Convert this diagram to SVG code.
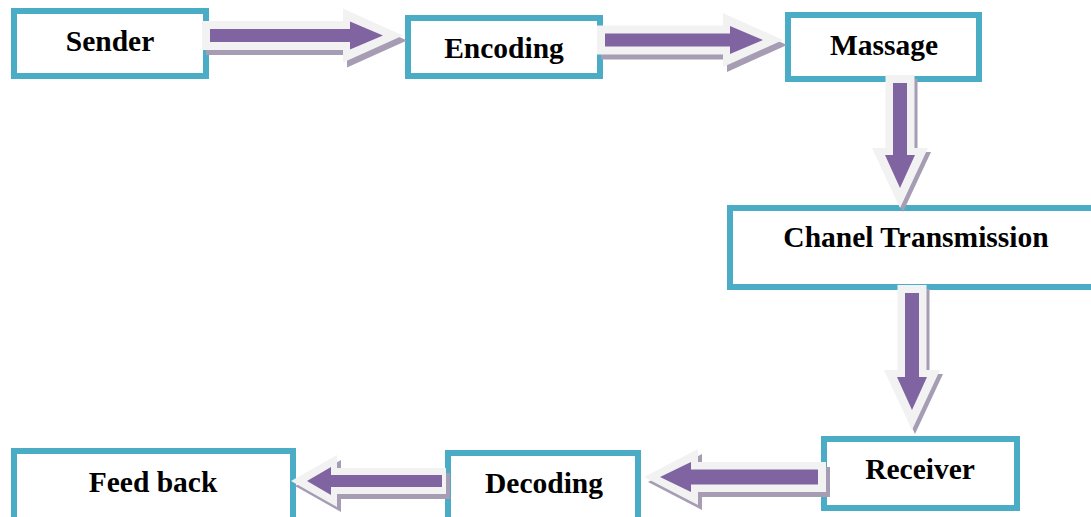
<svg xmlns="http://www.w3.org/2000/svg" width="1091" height="517" viewBox="0 0 1091 517">
<style>
.box{fill:#ffffff;stroke:#4bacc6;stroke-width:6}
.lbl{font-family:"Liberation Serif","Times New Roman",serif;font-weight:bold;font-size:29.5px;fill:#000;text-anchor:middle}
.outer{fill:#f2f2f2}
.inner{fill:#8064a2}
.shadow{fill:#a69db4}
</style>
<rect width="1091" height="517" fill="#ffffff"/>
<g id="sender"><rect class="box" x="14" y="11" width="192" height="65"/><text class="lbl" x="110" y="51">Sender</text></g>
<g id="encoding"><rect class="box" x="408" y="18" width="192" height="58"/><text class="lbl" x="504" y="58">Encoding</text></g>
<g id="massage"><rect class="box" x="788" y="15" width="191" height="64"/><text class="lbl" x="884" y="55">Massage</text></g>
<g id="chanel"><rect class="box" x="730" y="208" width="400" height="79"/><text class="lbl" x="916" y="247">Chanel Transmission</text></g>
<g id="receiver"><rect class="box" x="824" y="439" width="193" height="69"/><text class="lbl" x="920" y="479">Receiver</text></g>
<g id="decoding"><rect class="box" x="448" y="453" width="190" height="80"/><text class="lbl" x="544" y="493">Decoding</text></g>
<g id="feedback"><rect class="box" x="14" y="451" width="279" height="80"/><text class="lbl" x="153" y="492">Feed back</text></g>
<g id="connectors">
  <g transform="translate(206,40.5)"><path class="shadow" d="M0,-14.5H141V-27L201,0L141,27V14.5H0Z"/></g>
  <g transform="translate(202,35.5)"><path class="outer" d="M0,-14.5H141V-27L201,0L141,27V14.5H0Z"/><path class="inner" d="M8,-6.5H148V-14L181,0L148,14V6.5H8Z"/></g>
  <g transform="translate(601,45)"><path class="shadow" d="M0,-14.5H126V-27L186,0L126,27V14.5H0Z"/></g>
  <g transform="translate(597,40)"><path class="outer" d="M0,-14.5H126V-27L186,0L126,27V14.5H0Z"/><path class="inner" d="M8,-6.5H133V-14L166,0L133,14V6.5H8Z"/></g>
  <g transform="translate(903,79) rotate(90)"><path class="shadow" d="M0,-14.5H73V-28L133,0L73,28V14.5H0Z"/></g>
  <g transform="translate(900,75) rotate(90)"><path class="outer" d="M0,-14.5H73V-28L133,0L73,28V14.5H0Z"/><path class="inner" d="M8,-7H80V-15L113,0L80,15V7H8Z"/></g>
  <g transform="translate(915,289) rotate(90)"><path class="shadow" d="M0,-14.5H85V-28L145,0L85,28V14.5H0Z"/></g>
  <g transform="translate(912,285) rotate(90)"><path class="outer" d="M0,-14.5H85V-28L145,0L85,28V14.5H0Z"/><path class="inner" d="M8,-7H92V-15L125,0L92,15V7H8Z"/></g>
  <g transform="translate(830,482) rotate(180)"><path class="shadow" d="M0,-15H128V-28L182,0L128,28V15H0Z"/></g>
  <g transform="translate(826,477) rotate(180)"><path class="outer" d="M0,-15H128V-28L182,0L128,28V15H0Z"/><path class="inner" d="M8,-7.5H135V-15L166,0L135,15V7.5H8Z"/></g>
  <g transform="translate(450,486) rotate(180)"><path class="shadow" d="M0,-13H109V-26L155,0L109,26V13H0Z"/></g>
  <g transform="translate(446,481) rotate(180)"><path class="outer" d="M0,-13H109V-26L155,0L109,26V13H0Z"/><path class="inner" d="M4,-6H115V-14L139,0L115,14V6H4Z"/></g>
</g>
</svg>
